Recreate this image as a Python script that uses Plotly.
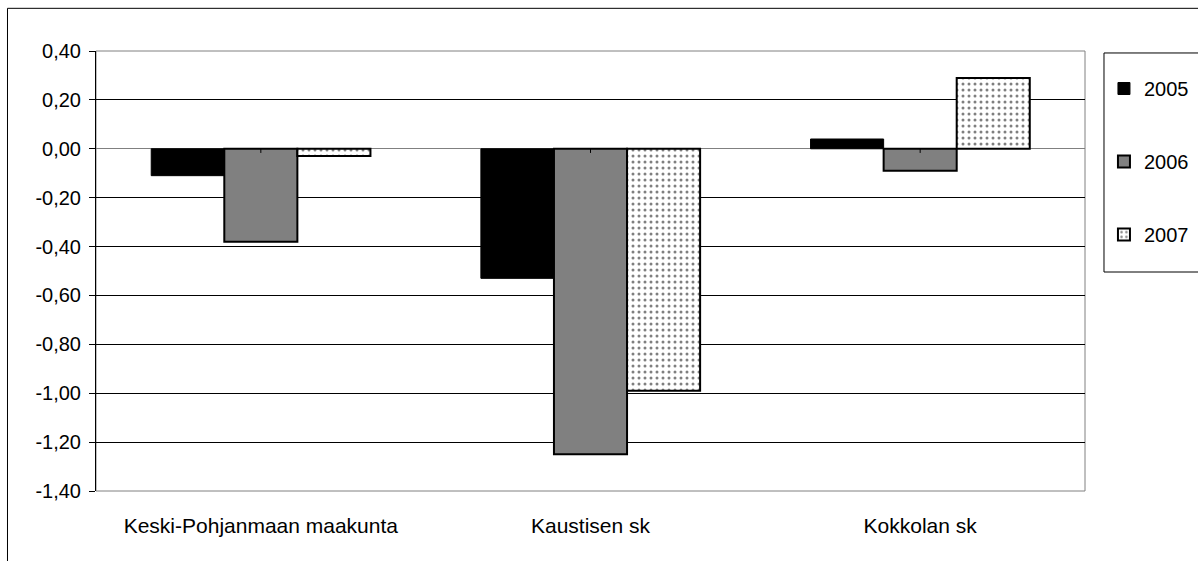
import plotly.graph_objects as go

# data
categories = ["Keski-Pohjanmaan maakunta", "Kaustisen sk", "Kokkolan sk"]
years = ["2005", "2006", "2007"]
v2005 = [-0.11, -0.53, 0.04]
v2006 = [-0.38, -1.25, -0.09]
v2007 = [-0.03, -0.99, 0.29]

tickvals = [0.4, 0.2, 0.0, -0.2, -0.4, -0.6, -0.8, -1.0, -1.2, -1.4]
ticktext = ["0,40", "0,20", "0,00", "-0,20", "-0,40", "-0,60", "-0,80", "-1,00", "-1,20", "-1,40"]

fig = go.Figure()

fig.add_trace(go.Bar(x=categories, y=v2005, name=years[0], legendgroup="a",
                     marker=dict(color="black", line=dict(color="black", width=1))))
fig.add_trace(go.Bar(x=categories, y=v2006, name=years[1], legendgroup="b",
                     marker=dict(color="#808080", line=dict(color="black", width=2))))
fig.add_trace(go.Bar(x=categories, y=v2007, name=years[2], legendgroup="c",
                     marker=dict(color="white", line=dict(color="black", width=2),
                                 pattern=dict(shape=".", fgcolor="black", bgcolor="white",
                                              size=6, solidity=0.2))))

font = dict(family="Liberation Sans, Arial, sans-serif", size=20, color="black")

# small category tick marks hanging from the zero line
shapes = [dict(type="line", xref="x", yref="y", x0=c, x1=c, y0=0, y1=-0.017,
               line=dict(color="black", width=1)) for c in categories]
shapes += [
    # plot area border (gray)
    dict(type="rect", xref="paper", yref="paper", x0=0, x1=1, y0=0, y1=1,
         line=dict(color="#808080", width=1), layer="below"),
    # outer chart border
    dict(type="line", xref="paper", yref="paper", x0=-0.0895, x1=-0.0895, y0=1.097, y1=-0.2,
         line=dict(color="black", width=1)),
    dict(type="line", xref="paper", yref="paper", x0=-0.0895, x1=1.2, y0=1.097, y1=1.097,
         line=dict(color="black", width=1)),
    # legend box
    dict(type="rect", xref="paper", yref="paper", x0=1.0192, x1=1.2, y0=0.4977, y1=0.9955,
         line=dict(color="black", width=1)),
]

fig.update_layout(
    width=1198, height=561,
    margin=dict(l=96, r=113, t=51, b=70),
    paper_bgcolor="white", plot_bgcolor="white",
    barmode="group", bargap=0.335, bargroupgap=0,
    font=font,
    showlegend=True,
    legend=dict(xref="container", yref="container", x=0.9215, xanchor="left",
                y=0.877, yanchor="top",
                borderwidth=0, bgcolor="rgba(0,0,0,0)",
                font=dict(family="Liberation Sans, Arial, sans-serif", size=20),
                traceorder="grouped", tracegroupgap=44,
                itemwidth=30),
    shapes=shapes,
)

fig.update_yaxes(range=[-1.4, 0.4], tickvals=tickvals, ticktext=ticktext,
                 showgrid=True, gridcolor="black", gridwidth=1,
                 zeroline=True, zerolinecolor="#808080", zerolinewidth=1,
                 showline=True, linecolor="black", linewidth=1,
                 ticks="outside", ticklen=6, tickcolor="black",
                 ticklabelstandoff=4, tickfont=font)
fig.update_xaxes(showgrid=False, showline=False, ticks="",
                 ticklabelstandoff=20,
                 tickfont=dict(family="Liberation Sans, Arial, sans-serif", size=21, color="black"))

# drop the default page margin so the figure fills the window exactly
fig.write_html("out.html", config={"displayModeBar": False},
               post_script="document.body.style.margin='0';")
